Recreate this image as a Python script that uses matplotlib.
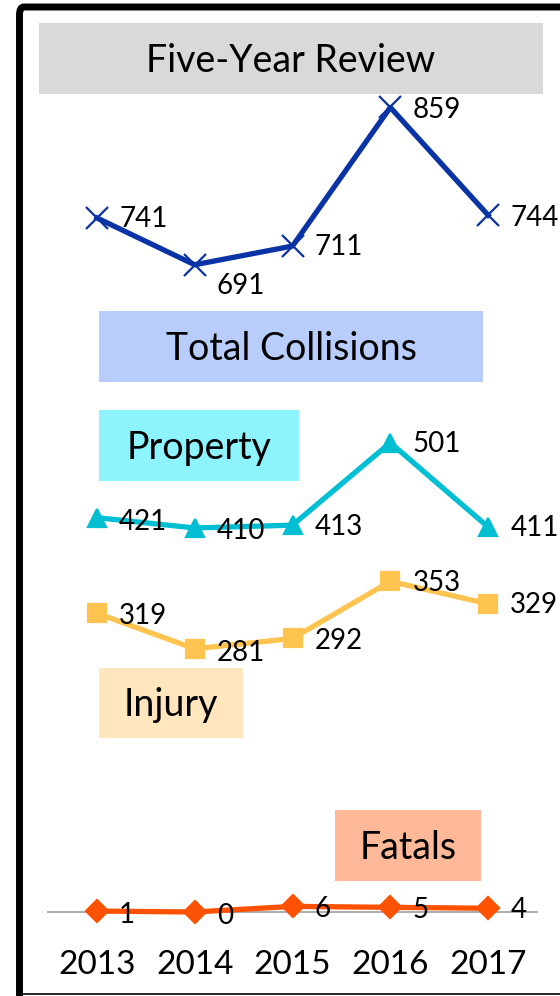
import matplotlib.pyplot as plt
from matplotlib.patches import Rectangle, FancyBboxPatch
from matplotlib.lines import Line2D

plt.rcParams['font.family'] = ['Lato', 'DejaVu Sans']

years = ['2013', '2014', '2015', '2016', '2017']
total = [741, 691, 711, 859, 744]
property_ = [421, 410, 413, 501, 411]
injury = [319, 281, 292, 353, 329]
fatals = [1, 0, 6, 5, 4]

W, H = 560, 996


def fx(x):
    return x / W


def fy(y):
    return 1 - y / H


fig = plt.figure(figsize=(W / 100, H / 100), dpi=100)

# outer frame (right and bottom run off the picture)
frame = FancyBboxPatch((fx(19.5), fy(1100)), fx(700) - fx(19.5), fy(7) - fy(1100),
                       boxstyle='round,pad=0,rounding_size=0.008',
                       transform=fig.transFigure, fill=False, ec='black', lw=5,
                       zorder=0)
fig.patches.append(frame)
fig.add_artist(Line2D([fx(19.5), 1], [fy(993.5), fy(993.5)], color='black',
                      lw=1.2, transform=fig.transFigure))

ax = fig.add_axes([fx(48), fy(912), fx(537) - fx(48), fy(69) - fy(912)])
ax.set_xlim(-0.5, 4.5)
ax.set_ylim(0, 900)
ax.patch.set_alpha(0)
for s in ['top', 'right', 'left']:
    ax.spines[s].set_visible(False)
ax.spines['bottom'].set_color('#A6A6A6')
ax.spines['bottom'].set_linewidth(1.3)
ax.set_yticks([])
ax.set_xticks(range(len(years)))
ax.set_xticklabels(years, fontsize=24)
ax.tick_params(axis='x', length=0, pad=27)

x = list(range(len(years)))
series = [
    (total, '#0A33A6', 'x', 16, [-1, -15, -1, -2, -2]),
    (property_, '#00BFD2', '^', 13, [-3, -2, -1, -1, -1]),
    (injury, '#FFC350', 's', 13, [-2, -3, -2, -1, -1]),
    (fatals, '#FF5200', 'D', 11, [-3, -3, -2, -2, -1]),
]
for vals, col, mk, ms, dys in series:
    ax.plot(x, vals, color=col, lw=3.8, marker=mk, ms=ms, mew=1.6,
            mec=col, mfc=col, clip_on=False, zorder=3)
    for xi, v, dy in zip(x, vals, dys):
        ax.annotate(str(v), (xi, v), xytext=(16, dy), textcoords='offset points',
                    ha='left', va='center', fontsize=20, color='black',
                    annotation_clip=False, zorder=4)

# label boxes
boxes = [
    ('Five-Year Review', 39, 23, 543, 94, '#D9D9D9'),
    ('Total Collisions', 99, 311, 483, 382, '#B8CDFB'),
    ('Property', 99, 410, 299, 481, '#8DF3FD'),
    ('Injury', 99, 668, 243, 738, '#FFE6BE'),
    ('Fatals', 335, 810, 481, 881, '#FFB998'),
]
for label, x0, y0, x1, y1, col in boxes:
    fig.patches.append(Rectangle((fx(x0), fy(y1)), fx(x1) - fx(x0), fy(y0) - fy(y1),
                                 transform=fig.transFigure, fc=col, ec='none',
                                 zorder=1))
    fig.text(fx((x0 + x1) / 2), fy((y0 + y1) / 2 + 2), label, ha='center',
             va='center', fontsize=27, color='black', zorder=2)

fig.savefig('out.png', dpi=100)
